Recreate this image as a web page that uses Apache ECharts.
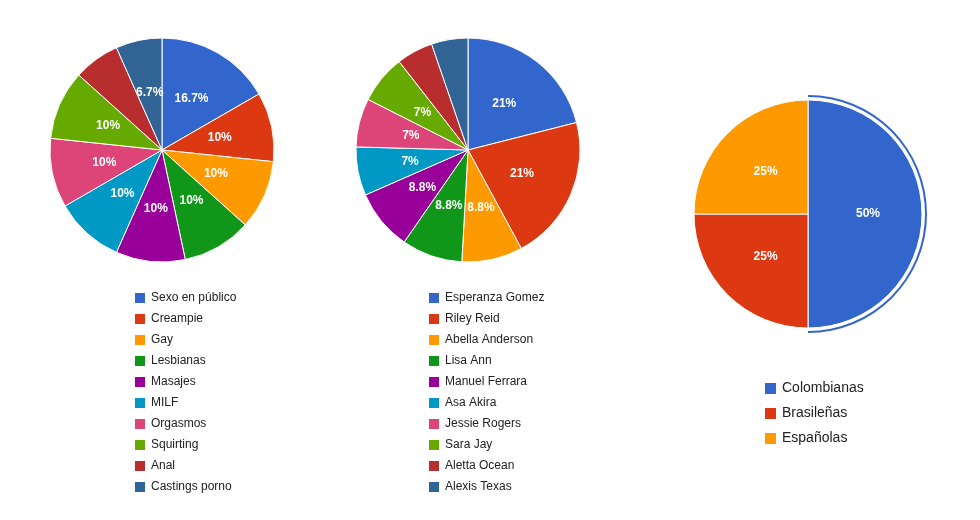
<!DOCTYPE html>
<html>
<head>
<meta charset="utf-8">
<script src="https://cdn.jsdelivr.net/npm/echarts@6/dist/echarts.min.js"></script>
<style>html,body{margin:0;background:#fff}#c{width:980px;height:520px}</style>
</head>
<body>
<div id="c"></div>
<script>
var colors = ['#3366cc', '#dc3912', '#ff9900', '#109618', '#990099', '#0099c6', '#dd4477', '#66aa00', '#b82e2e', '#316395'];

var categoriasNames = ['Sexo en público', 'Creampie', 'Gay', 'Lesbianas', 'Masajes', 'MILF', 'Orgasmos', 'Squirting', 'Anal', 'Castings porno'];
var categoriasValues = [5, 3, 3, 3, 3, 3, 3, 3, 2, 2];

var actoresNames = ['Esperanza Gomez', 'Riley Reid', 'Abella Anderson', 'Lisa Ann', 'Manuel Ferrara', 'Asa Akira', 'Jessie Rogers', 'Sara Jay', 'Aletta Ocean', 'Alexis Texas'];
var actoresValues = [12, 12, 5, 5, 5, 4, 4, 4, 3, 3];

var nacionNames = ['Colombianas', 'Brasileñas', 'Españolas'];
var nacionValues = [2, 1, 1];

function fmt(p) {
  var s = p >= 20 ? Math.round(p).toString() : p.toFixed(1);
  return s.replace(/\.0$/, '') + '%';
}

function makeData(names, values, hide) {
  var total = values.reduce(function (a, b) { return a + b; }, 0);
  return names.map(function (n, i) {
    var p = values[i] / total * 100;
    var d = { name: n, value: values[i] };
    if (hide.indexOf(i) >= 0) d.label = { show: false };
    d.pct = p;
    return d;
  });
}

var labelStyle = {
  show: true, position: 'inside', color: '#fff', fontWeight: 'bold', fontSize: 12,
  fontFamily: 'Arial, Liberation Sans',
  formatter: function (p) { return fmt(p.percent); }
};

function pie(center, r, data) {
  return {
    type: 'pie', center: center, radius: r, startAngle: 90, clockwise: true,
    data: data, label: labelStyle, labelLine: { show: false },
    itemStyle: { borderColor: '#fff', borderWidth: 1 },
    emphasis: { disabled: true }
  };
}

function legend(x, y, names, size, gap) {
  return {
    orient: 'vertical', left: x, top: y, data: names,
    itemWidth: size, itemHeight: size, itemGap: gap, icon: 'rect',
    textStyle: { fontSize: size === 12 ? 12 : 14, color: '#222', fontFamily: 'Arial, Liberation Sans' }
  };
}

var d1 = makeData(categoriasNames, categoriasValues, [8]);
var d2 = makeData(actoresNames, actoresValues, [8, 9]);
var d3 = makeData(nacionNames, nacionValues, []);

var chart = echarts.init(document.getElementById('c'));
chart.setOption({
  color: colors,
  animation: false,
  legend: [
    legend(128, 286, categoriasNames, 12, 7),
    legend(422, 286, actoresNames, 12, 7),
    legend(758, 376, nacionNames, 13, 10)
  ],
  series: [
    Object.assign(pie([162, 150], 112, d1), { }),
    pie([468, 150], 112, d2),
    pie([808, 214], 114, d3),
    {
      type: 'pie', center: [808, 214], radius: [117, 119], startAngle: 90, silent: true,
      data: nacionValues.map(function (v, i) {
        return { value: v, itemStyle: { color: i === 0 ? '#3366cc' : 'rgba(0,0,0,0)' } };
      }),
      label: { show: false }, labelLine: { show: false }
    }
  ]
});
</script>
</body>
</html>
